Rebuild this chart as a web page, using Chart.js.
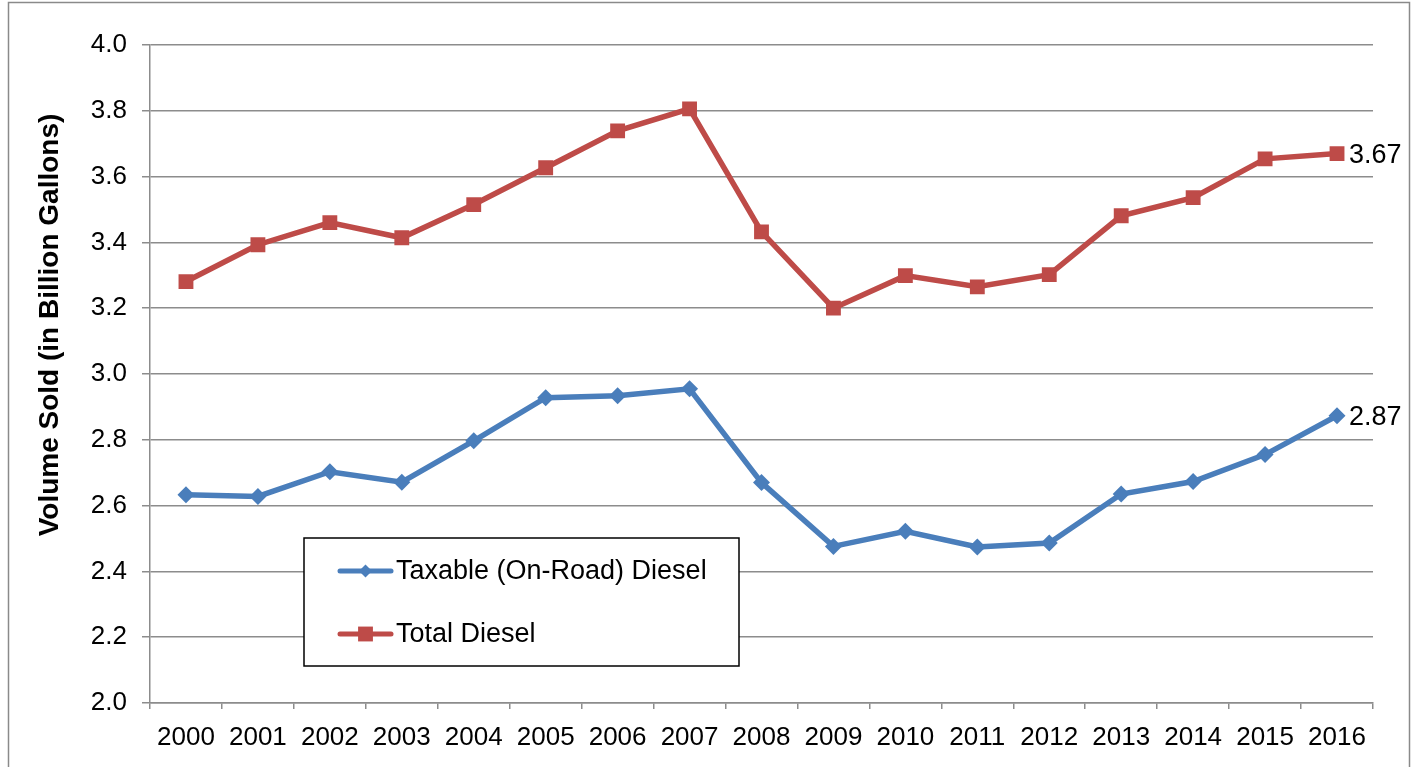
<!DOCTYPE html>
<html>
<head>
<meta charset="utf-8">
<title>Diesel Volume Sold</title>
<script src="https://cdn.jsdelivr.net/npm/chart.js@4.4.1/dist/chart.umd.min.js"></script>
<style>
  html, body { margin: 0; padding: 0; background: #fff; }
  #wrap { width: 1421px; height: 767px; }
</style>
</head>
<body>
<div id="wrap"><canvas id="dieselChart" width="1421" height="767"></canvas></div>
<script>
// Data
const years = ['2000', '2001', '2002', '2003', '2004', '2005', '2006', '2007', '2008',
               '2009', '2010', '2011', '2012', '2013', '2014', '2015', '2016'];
const taxableDiesel = [2.633, 2.628, 2.703, 2.671, 2.797, 2.928, 2.934, 2.955, 2.670,
                       2.476, 2.522, 2.474, 2.486, 2.635, 2.673, 2.755, 2.873];
const totalDiesel = [3.281, 3.393, 3.460, 3.414, 3.515, 3.627, 3.739, 3.806, 3.432,
                     3.200, 3.299, 3.265, 3.302, 3.481, 3.536, 3.654, 3.670];
const endLabels = ['2.87', '3.67'];
const seriesNames = ['Taxable (On-Road) Diesel', 'Total Diesel'];
const yAxisTitle = 'Volume Sold (in Billion Gallons)';

const BLUE = '#4A7EBB';
const RED = '#BE4B48';
const GRID = '#8c8c8c';
const FONT = '"Liberation Sans", Arial, sans-serif';

// draw a diamond or square marker
function drawMarker(ctx, style, x, y, r, color) {
    ctx.save();
    ctx.fillStyle = color;
    ctx.beginPath();
    if (style === 'rectRot') {
        ctx.moveTo(x, y - r);
        ctx.lineTo(x + r, y);
        ctx.lineTo(x, y + r);
        ctx.lineTo(x - r, y);
        ctx.closePath();
    } else {
        const s = r * Math.SQRT1_2;
        ctx.rect(x - s, y - s, 2 * s, 2 * s);
    }
    ctx.fill();
    ctx.restore();
}

// white background, thin outer frame and the rotated axis title
const framePlugin = {
    id: 'frame',
    beforeDraw(chart) {
        const ctx = chart.ctx;
        ctx.save();
        ctx.fillStyle = '#fff';
        ctx.fillRect(0, 0, chart.width, chart.height);
        ctx.strokeStyle = '#8a8a8a';
        ctx.lineWidth = 1.5;
        ctx.strokeRect(8.5, 2.5, 1401, 800);

        // axis title sits a bit above the plot's middle in the original
        ctx.translate(50, 325);
        ctx.rotate(-Math.PI / 2);
        ctx.font = 'bold 28px ' + FONT;
        ctx.fillStyle = '#000';
        ctx.textAlign = 'center';
        ctx.textBaseline = 'middle';
        ctx.fillText(yAxisTitle, 0, 0);
        ctx.restore();
    }
};

// value labels next to the last point of each series
const endLabelPlugin = {
    id: 'endLabels',
    afterDatasetsDraw(chart) {
        const ctx = chart.ctx;
        ctx.save();
        ctx.font = '27px ' + FONT;
        ctx.fillStyle = '#000';
        ctx.textBaseline = 'middle';
        ctx.textAlign = 'left';
        chart.data.datasets.forEach((ds, i) => {
            const meta = chart.getDatasetMeta(i);
            const pt = meta.data[meta.data.length - 1];
            ctx.fillText(endLabels[i], pt.x + 12, pt.y + 2);
        });
        ctx.restore();
    }
};

// boxed legend placed inside the plot area
const boxLegendPlugin = {
    id: 'boxLegend',
    afterDraw(chart) {
        const ctx = chart.ctx;
        const box = { x: 304, y: 538, w: 435, h: 128 };
        ctx.save();
        ctx.fillStyle = '#fff';
        ctx.fillRect(box.x, box.y, box.w, box.h);
        ctx.strokeStyle = '#000';
        ctx.lineWidth = 1.5;
        ctx.strokeRect(box.x, box.y, box.w, box.h);

        const rows = [571, 634];
        const markerSize = [6.5, 10.5];
        ctx.font = '27px ' + FONT;
        ctx.textBaseline = 'middle';
        chart.data.datasets.forEach((ds, i) => {
            const y = rows[i];
            ctx.strokeStyle = ds.borderColor;
            ctx.lineWidth = 5;
            ctx.lineCap = 'round';
            ctx.beginPath();
            ctx.moveTo(340, y);
            ctx.lineTo(391, y);
            ctx.stroke();
            drawMarker(ctx, ds.pointStyle, 365.5, y, markerSize[i], ds.backgroundColor);
            ctx.fillStyle = '#000';
            ctx.fillText(ds.label, 396, y + 1);
        });
        ctx.restore();
    }
};

new Chart(document.getElementById('dieselChart'), {
    type: 'line',
    data: {
        labels: years,
        datasets: [
            {
                label: seriesNames[0],
                data: taxableDiesel,
                borderColor: BLUE,
                backgroundColor: BLUE,
                borderWidth: 5.5,
                pointStyle: 'rectRot',
                pointRadius: 8.5,
                pointBorderWidth: 0,
                tension: 0
            },
            {
                label: seriesNames[1],
                data: totalDiesel,
                borderColor: RED,
                backgroundColor: RED,
                borderWidth: 5.5,
                pointStyle: 'rect',
                pointRadius: 10.5,
                pointBorderWidth: 0,
                tension: 0
            }
        ]
    },
    options: {
        responsive: false,
        animation: false,
        events: [],
        layout: {
            padding: { top: 45, right: 48, bottom: 0, left: 0 }
        },
        plugins: {
            legend: { display: false },
            tooltip: { enabled: false },
            title: { display: false }
        },
        scales: {
            x: {
                offset: true,
                grid: {
                    offset: true,
                    drawOnChartArea: false,
                    drawTicks: true,
                    tickLength: 6,
                    color: GRID,
                    lineWidth: 1.5
                },
                border: { display: true, color: GRID, width: 1.5 },
                ticks: {
                    color: '#000',
                    font: { family: FONT, size: 26 },
                    padding: 13,
                    maxRotation: 0,
                    autoSkip: false
                },
                afterFit(scale) { scale.height = 64; }
            },
            y: {
                min: 2.0,
                max: 4.0,
                grid: {
                    color: GRID,
                    lineWidth: 1.5,
                    tickLength: 8
                },
                border: { display: true, color: GRID, width: 1.5 },
                ticks: {
                    stepSize: 0.2,
                    color: '#000',
                    font: { family: FONT, size: 26 },
                    padding: 15,
                    callback: (v) => v.toFixed(1)
                },
                afterFit(scale) { scale.width = 150; }
            }
        }
    },
    plugins: [framePlugin, endLabelPlugin, boxLegendPlugin]
});
</script>
</body>
</html>
